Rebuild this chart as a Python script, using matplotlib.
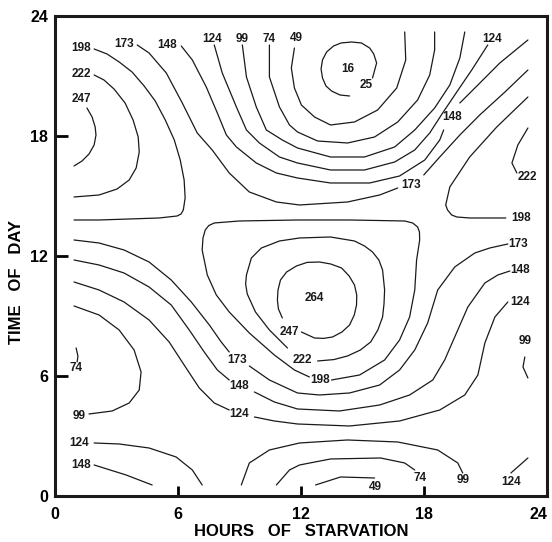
import matplotlib.pyplot as plt

# digitized contour lines: (hours of starvation, time of day)
# upper band, around the minimum (16) near 14 h / 21 h
c25 = [(15.49, 20.9), (15.69, 21.65), (15.55, 22.1), (15.35, 22.4), (14.95, 22.65), (14.47, 22.7),
       (13.95, 22.65), (13.59, 22.5), (13.25, 22.2), (13.05, 21.8), (12.98, 21.35), (13.05, 20.9),
       (13.22, 20.5), (13.49, 20.25), (13.9, 20.05), (14.37, 20.0)]
c49 = [(11.68, 22.4), (11.53, 21.4), (11.68, 20.4), (12.02, 19.55), (12.66, 18.95), (13.44, 18.55),
       (14.61, 18.7), (15.74, 19.3), (16.67, 20.4), (17.11, 21.8), (17.06, 23.2)]
c74 = [(10.46, 22.55), (10.46, 20.95), (10.95, 19.45), (11.44, 18.55), (11.83, 18.2), (12.81, 17.75),
       (14.27, 17.65), (15.59, 17.95), (16.72, 18.7), (17.69, 19.8), (18.28, 21.05), (18.52, 22.3),
       (18.52, 23.2)]
c99 = [(9.14, 22.55), (9.34, 20.95), (9.82, 19.45), (10.31, 18.3), (11.09, 17.8), (11.83, 17.4),
       (13.44, 16.95), (15.10, 16.95), (16.57, 17.45), (17.55, 18.3), (18.52, 19.4), (19.26, 20.55),
       (19.75, 21.9), (19.99, 23.2)]
c124_top = [(7.77, 22.55), (8.16, 21.15), (8.85, 19.45), (9.34, 18.3), (9.97, 17.65), (10.95, 16.95),
            (11.83, 16.65), (13.44, 16.3), (15.10, 16.3), (16.57, 16.7), (17.55, 17.3), (18.28, 18.15),
            (18.91, 19.15), (19.60, 20.2), (20.33, 21.3), (21.11, 22.55)]
c148_top_a = [(6.16, 22.5), (6.70, 21.8), (7.38, 20.45), (7.92, 19.15), (8.36, 18.05), (8.85, 17.45),
              (9.82, 16.65), (10.80, 16.15), (11.83, 15.9), (13.44, 15.65), (15.35, 15.65), (16.81, 16.0),
              (18.04, 16.8), (18.77, 17.8), (18.96, 18.3)]
c148_top_b = [(19.75, 19.65), (20.63, 20.55), (21.70, 21.65), (23.07, 22.8)]
c173_top_a = [(4.01, 22.55), (4.59, 22.15), (5.43, 21.15), (6.21, 19.65), (6.94, 18.15), (7.67, 17.3),
              (8.50, 16.15), (9.48, 15.2), (10.80, 14.7), (11.93, 14.55), (14.27, 14.7), (15.84, 15.05),
              (16.72, 15.4)]
c173_top_b = [(17.99, 16.05), (18.77, 16.95), (19.75, 18.05), (20.72, 19.05), (21.95, 20.2), (23.07, 21.3)]
c198_right = [(21.99, 13.9), (20.23, 13.9), (19.6, 13.95), (19.35, 14.05), (19.15, 14.3), (19.06, 14.55),
              (19.26, 15.45), (20.23, 16.95), (21.55, 18.45), (23.07, 19.95)]
c222_right = [(23.07, 18.4), (22.58, 17.55), (22.29, 16.65), (22.53, 16.15)]

# upper left maximum
c247_left = [(1.56, 19.4), (1.81, 18.95), (1.96, 18.45), (2.0, 18.05), (1.91, 17.55), (1.66, 17.1),
             (1.32, 16.75), (0.93, 16.5)]
c222_left = [(1.91, 21.05), (2.39, 20.8), (2.88, 20.35), (3.42, 19.65), (3.81, 18.8), (4.06, 17.95),
             (4.11, 17.2), (3.96, 16.4), (3.62, 15.8), (3.03, 15.35), (2.15, 15.05), (0.93, 14.95)]
c198_left = [(1.91, 22.35), (2.54, 22.1), (3.13, 21.7), (3.76, 21.2), (4.35, 20.5), (4.89, 19.75),
             (5.38, 18.8), (5.82, 17.8), (6.11, 16.8), (6.30, 15.8), (6.35, 14.9), (6.26, 14.3),
             (6.15, 14.1), (5.96, 14.0), (5.08, 13.9), (3.62, 13.85), (2.15, 13.8), (0.93, 13.8)]

# central maximum (264)
c247_mid = [(11.09, 8.9), (10.9, 9.35), (10.85, 9.8), (10.88, 10.3), (11.00, 10.8), (11.3, 11.2),
            (11.78, 11.5), (12.3, 11.68), (12.90, 11.7), (13.45, 11.6), (13.98, 11.4), (14.35, 11.0),
            (14.61, 10.55), (14.72, 10.05), (14.71, 9.55), (14.6, 9.05), (14.37, 8.55), (14.0, 8.2),
            (13.54, 7.95), (13.1, 7.88), (12.66, 7.9), (12.02, 8.2)]
c222_mid = [(11.34, 7.4), (10.46, 8.3), (9.78, 9.2), (9.38, 10.1), (9.30, 10.6), (9.34, 11.05),
            (9.58, 11.9), (10.07, 12.4), (10.95, 12.75), (11.93, 12.9), (13.44, 12.95), (14.61, 12.75),
            (15.10, 12.5), (15.49, 12.2), (15.80, 11.8), (15.98, 11.3), (16.08, 10.3), (16.05, 9.6),
            (15.98, 8.95), (15.75, 8.3), (15.40, 7.7), (14.9, 7.3), (14.27, 7.0), (13.6, 6.82),
            (12.81, 6.75)]
c198_mid = [(13.49, 5.8), (14.86, 6.05), (16.08, 6.8), (16.81, 7.8), (17.30, 8.95), (17.55, 10.3),
            (17.64, 11.8), (17.79, 12.8), (17.78, 13.2), (17.69, 13.45), (17.45, 13.65), (17.06, 13.75),
            (14.37, 13.8), (11.83, 13.8), (8.99, 13.75), (7.77, 13.65), (7.50, 13.52), (7.33, 13.3),
            (7.22, 12.9), (7.18, 12.3), (7.43, 11.05), (7.87, 10.05), (8.50, 9.2), (9.48, 8.15),
            (10.70, 7.05), (11.68, 6.3), (12.41, 5.95)]

# long S-shaped lines across the lower half
c173_low_a = [(0.93, 12.8), (2.15, 12.65), (3.37, 12.3), (4.59, 11.7), (5.67, 10.8), (6.65, 9.7),
              (7.53, 8.55), (8.11, 7.7), (8.50, 7.2)]
c173_low_b = [(9.48, 6.5), (10.46, 5.8), (11.83, 5.15), (12.90, 5.05), (14.37, 5.15), (15.84, 5.55),
              (16.81, 6.3), (17.55, 7.3), (18.18, 8.65), (18.67, 10.3), (19.50, 11.45), (20.48, 12.15),
              (21.21, 12.4), (22.09, 12.6)]
c148_low_a = [(0.93, 11.8), (2.15, 11.55), (3.37, 11.15), (4.59, 10.45), (5.67, 9.55), (6.55, 8.3),
              (7.28, 7.2), (7.92, 6.3), (8.50, 5.8)]
c148_low_b = [(9.73, 5.2), (10.70, 4.7), (11.83, 4.35), (13.88, 4.25), (15.84, 4.55), (17.30, 5.05),
              (18.43, 5.8), (19.01, 6.8), (19.50, 7.95), (20.14, 9.45), (20.97, 10.65), (21.60, 11.05),
              (22.19, 11.25)]
c124_low_a = [(0.93, 10.7), (2.15, 10.3), (3.37, 9.7), (4.59, 8.8), (5.57, 7.7), (6.30, 6.55),
              (7.04, 5.4), (7.77, 4.65), (8.50, 4.3)]
c124_low_b = [(9.73, 3.95), (10.70, 3.75), (11.83, 3.6), (14.37, 3.5), (16.81, 3.75), (18.77, 4.3),
              (19.99, 5.05), (20.63, 6.05), (20.97, 7.65), (21.46, 8.95), (22.09, 9.7)]
c99_left = [(0.93, 9.5), (2.15, 9.05), (3.13, 8.3), (3.86, 7.3), (4.20, 6.2), (4.11, 5.3),
            (3.62, 4.65), (2.79, 4.25), (1.66, 4.1)]
c74_left = [(1.03, 7.4), (1.12, 7.0), (1.08, 6.7)]
c99_right = [(22.92, 6.95), (22.83, 6.45), (23.07, 5.9)]

# bottom band
c124_bl = [(1.91, 2.65), (3.13, 2.6), (4.59, 2.4), (5.91, 1.95), (6.70, 1.3), (7.18, 0.55)]
c148_bl = [(1.91, 1.55), (3.47, 1.05), (4.74, 0.55)]
c99_bot = [(9.09, 0.55), (9.48, 1.65), (10.46, 2.3), (11.93, 2.65), (14.27, 2.8), (16.72, 2.7),
           (18.67, 2.3), (19.65, 1.65), (19.89, 1.15)]
c74_bot = [(10.80, 0.55), (11.44, 1.3), (11.93, 1.55), (13.44, 1.85), (15.88, 1.9), (17.06, 1.65),
           (17.55, 1.3)]
c49_bot = [(12.71, 0.55), (13.93, 0.95), (15.59, 0.9)]
c124_br = [(22.24, 1.15), (23.07, 1.9)]

lines = [c25, c49, c74, c99, c124_top, c148_top_a, c148_top_b, c173_top_a, c173_top_b,
         c198_right, c222_right, c247_left, c222_left, c198_left, c247_mid, c222_mid, c198_mid,
         c173_low_a, c173_low_b, c148_low_a, c148_low_b, c124_low_a, c124_low_b, c99_left,
         c74_left, c99_right, c124_bl, c148_bl, c99_bot, c74_bot, c49_bot, c124_br]

# contour level labels: (text, x, y)
labels = [("198", 1.27, 22.4), ("222", 1.27, 21.1), ("247", 1.27, 19.85), ("173", 3.37, 22.6),
          ("148", 5.47, 22.55), ("124", 7.67, 22.85), ("99", 9.14, 22.85), ("74", 10.46, 22.85),
          ("49", 11.78, 22.9), ("16", 14.27, 21.35), ("25", 15.20, 20.55), ("124", 21.31, 22.85),
          ("148", 19.35, 18.95), ("173", 17.35, 15.55), ("222", 23.02, 15.95), ("198", 22.73, 13.9),
          ("173", 22.58, 12.6), ("148", 22.68, 11.3), ("124", 22.68, 9.7), ("99", 22.92, 7.75),
          ("264", 12.66, 9.9), ("247", 11.44, 8.2), ("222", 12.07, 6.8), ("198", 12.95, 5.8),
          ("173", 8.90, 6.8), ("148", 8.99, 5.5), ("124", 8.99, 4.1), ("74", 1.03, 6.4),
          ("99", 1.17, 4.0), ("124", 1.17, 2.65), ("148", 1.27, 1.55), ("49", 15.64, 0.45),
          ("74", 17.79, 0.9), ("99", 19.89, 0.8), ("124", 22.24, 0.7)]

ticks = [0, 6, 12, 18, 24]

plt.rcParams['font.family'] = ['Liberation Sans', 'DejaVu Sans']
fig = plt.figure(figsize=(5.52, 5.42), dpi=100)
ax = fig.add_axes([0.0996, 0.0849, 0.8913, 0.8856])

for pts in lines:
    xs = [p[0] for p in pts]
    ys = [p[1] for p in pts]
    ax.plot(xs, ys, color='#1a1a1a', linewidth=0.9, solid_capstyle='round', solid_joinstyle='round')

for txt, x, y in labels:
    ax.text(x, y, txt, ha='center', va='center', fontsize=8.5, fontweight='bold', color='#1a1a1a')

ax.set_xlim(0, 24)
ax.set_ylim(0, 24)
ax.set_xticks(ticks)
ax.set_yticks(ticks)
ax.set_xticklabels([str(t) for t in ticks], fontsize=11.5, fontweight='bold')
ax.set_yticklabels([str(t) for t in ticks], fontsize=11.5, fontweight='bold')
ax.get_xticklabels()[-1].set_horizontalalignment('right')
ax.tick_params(axis='x', direction='in', length=7, width=2, pad=8)
ax.tick_params(axis='y', direction='in', length=9, width=2, pad=5)
for s in ax.spines.values():
    s.set_linewidth(2.2)
    s.set_color('#1a1a1a')

ax.set_xlabel('HOURS   OF   STARVATION', fontsize=12, fontweight='bold')
ax.set_ylabel('TIME   OF   DAY', fontsize=12, fontweight='bold')
ax.xaxis.set_label_coords(0.5, -0.058)
ax.yaxis.set_label_coords(-0.063, 0.446)

fig.savefig('out.png', dpi=100)
